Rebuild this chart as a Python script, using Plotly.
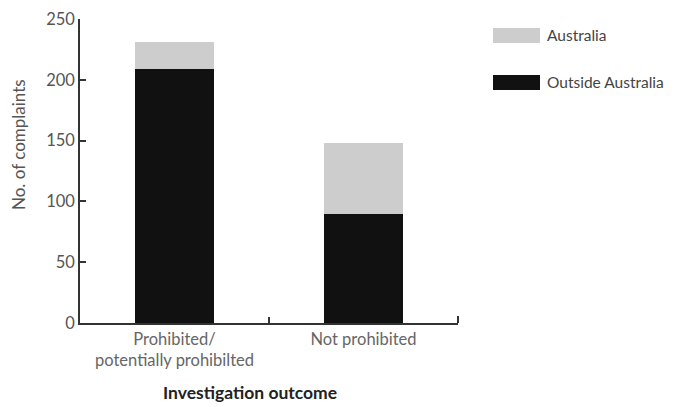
import plotly.graph_objects as go

categories = ["Prohibited/<br>potentially prohibilted", "Not prohibited"]
outside_australia = [209, 90]
australia = [22, 58]
series_names = ["Outside Australia", "Australia"]
colors = ["#111111", "#cdcdcd"]
y_ticks = [0, 50, 100, 150, 200, 250]

FONT = "Lato"
FS = 16.5

fig = go.Figure()
fig.add_trace(go.Bar(x=categories, y=outside_australia, name=series_names[0],
                     marker=dict(color=colors[0], line=dict(width=0)), width=0.42))
fig.add_trace(go.Bar(x=categories, y=australia, name=series_names[1],
                     marker=dict(color=colors[1], line=dict(width=0)), width=0.42))

fig.update_layout(
    barmode="stack",
    width=667, height=399,
    margin=dict(l=72, r=217, t=11, b=84),
    paper_bgcolor="white", plot_bgcolor="white",
    showlegend=False,
    font=dict(family=FONT, size=FS, color="#555555"),
    xaxis=dict(range=[-0.5, 1.5], showline=True, linecolor="#333333", linewidth=1.5,
               ticks="inside", tickson="boundaries", ticklen=6, tickcolor="#333333",
               tickwidth=1.5, showgrid=False, zeroline=False, automargin=False,
               tickfont=dict(size=FS, color="#666666")),
    yaxis=dict(range=[0, 250], tickvals=y_ticks, showline=True, linecolor="#333333",
               linewidth=1.5, ticks="inside", ticklen=6, tickcolor="#333333", tickwidth=1.5,
               showgrid=False, zeroline=False, automargin=False,
               tickfont=dict(size=FS, color="#555555")),
)

# end tick at the right end of the x axis
fig.add_shape(type="line", xref="paper", yref="paper", x0=1, x1=1, y0=0, y1=7 / 304,
              line=dict(color="#333333", width=2))

fig.add_annotation(text="No. of complaints", xref="paper", yref="paper",
                   x=(18 - 80) / 378, y=(323 - 145) / 304, textangle=-90,
                   xanchor="center", yanchor="middle", showarrow=False,
                   font=dict(size=17, color="#555555"))

# legend drawn manually (large swatches as in the reference)
legend_rows = [(series_names[1], colors[1], 28, 43), (series_names[0], colors[0], 75, 90)]
for name, col, top, bot in legend_rows:
    y0 = (323 - bot) / 304
    y1 = (323 - top) / 304
    fig.add_shape(type="rect", xref="paper", yref="paper",
                  x0=(493 - 80) / 378, x1=(540 - 80) / 378, y0=y0, y1=y1,
                  fillcolor=col, line=dict(width=0))
    fig.add_annotation(text=name, xref="paper", yref="paper",
                       x=(545 - 80) / 378, y=(y0 + y1) / 2, xanchor="left", yanchor="middle",
                       showarrow=False, font=dict(size=15.5, color="#444444"))

fig.add_annotation(text="<b>Investigation outcome</b>", xref="paper", yref="paper",
                   x=(250 - 80) / 378, y=(323 - 392) / 304, xanchor="center", yanchor="middle",
                   showarrow=False, font=dict(size=17.5, color="#222222"))

fig.write_html("out.html")
